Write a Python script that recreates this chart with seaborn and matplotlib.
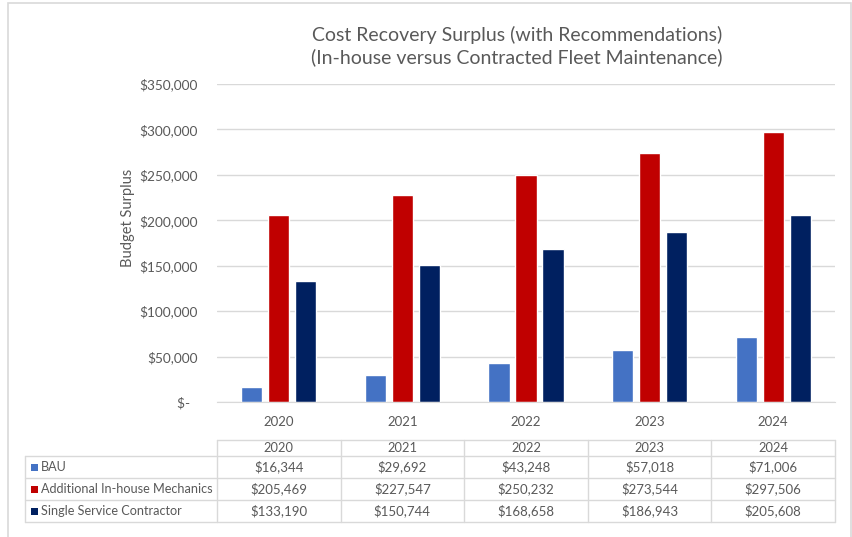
import matplotlib
matplotlib.use("Agg")
import matplotlib.pyplot as plt
from matplotlib.lines import Line2D
from matplotlib.patches import Rectangle
from matplotlib.ticker import FuncFormatter
import seaborn as sns
import pandas as pd

# ---- data ----
years = ["2020", "2021", "2022", "2023", "2024"]
series_names = ["BAU", "Additional In-house Mechanics", "Single Service Contractor"]
bau = [16344, 29692, 43248, 57018, 71006]
in_house = [205469, 227547, 250232, 273544, 297506]
contractor = [133190, 150744, 168658, 186943, 205608]
series_values = [bau, in_house, contractor]
colors = ["#4472C4", "#C00000", "#002060"]
y_ticks = [0, 50000, 100000, 150000, 200000, 250000, 300000, 350000]

title = "Cost Recovery Surplus (with Recommendations)\n(In-house versus Contracted Fleet Maintenance)"
y_label = "Budget Surplus"

TEXT = "#595959"
GRID = "#D9D9D9"
FONT = "Lato"

df = pd.DataFrame(
    [(y, name, v) for name, vals in zip(series_names, series_values) for y, v in zip(years, vals)],
    columns=["Year", "Series", "Value"],
)

W, H = 853, 537
fig = plt.figure(figsize=(W / 100, H / 100), dpi=100)
sns.set_style("white")
plt.rcParams["font.family"] = [FONT, "DejaVu Sans"]


def fx(px):
    return px / W


def fy(py):
    return 1 - py / H


# chart frame
fig.add_artist(Rectangle((fx(8), fy(545)), fx(851) - fx(8), fy(3) - fy(545),
                         transform=fig.transFigure, fill=False, edgecolor=GRID, lw=1.2))

ax_left, ax_right, ax_top, ax_bottom = 217, 835, 84, 402
ax = fig.add_axes([fx(ax_left), fy(ax_bottom), fx(ax_right) - fx(ax_left), fy(ax_top) - fy(ax_bottom)])

sns.barplot(data=df, x="Year", y="Value", hue="Series", order=years, hue_order=series_names,
            palette=colors, width=0.656, gap=0.22, ax=ax, legend=False, saturation=1)

ax.set_ylim(0, 350000)
ax.set_yticks(y_ticks)


def money(v, pos):
    return "$-  " if v == 0 else f"${v:,.0f}"


ax.yaxis.set_major_formatter(FuncFormatter(money))
ax.grid(axis="y", color=GRID, lw=1)
ax.set_axisbelow(True)
for s in ["top", "right", "left"]:
    ax.spines[s].set_visible(False)
ax.spines["bottom"].set_color(GRID)
ax.tick_params(axis="both", length=0, colors=TEXT, labelsize=9.8)
ax.tick_params(axis="x", pad=10)
ax.tick_params(axis="y", pad=14)
for lab in ax.get_xticklabels():
    lab.set_fontsize(9.5)
ax.set_xlabel("")
ax.set_ylabel(y_label, color=TEXT, fontsize=10.5)
ax.yaxis.set_label_coords(-0.132, 0.579)

fig.text(fx(517), fy(46), title, ha="center", va="center", color=TEXT, fontsize=14,
         linespacing=1.3)

# ---- data table ----
tab_left, col0_right, tab_right = 25, 217, 835
row_edges = [440, 456, 478, 500, 522]
ncol = len(years)
col_w = (tab_right - col0_right) / ncol
col_edges = [col0_right + i * col_w for i in range(ncol + 1)]


def hline(x0, x1, y):
    fig.add_artist(Line2D([fx(x0), fx(x1)], [fy(y), fy(y)], transform=fig.transFigure, color=GRID, lw=1))


def vline(x, y0, y1):
    fig.add_artist(Line2D([fx(x), fx(x)], [fy(y0), fy(y1)], transform=fig.transFigure, color=GRID, lw=1))


hline(col0_right, tab_right, row_edges[0])
for y in row_edges[1:]:
    hline(tab_left, tab_right, y)
vline(tab_left, row_edges[1], row_edges[-1])
for x in col_edges:
    vline(x, row_edges[0], row_edges[-1])

for j, yr in enumerate(years):
    cx = (col_edges[j] + col_edges[j + 1]) / 2
    fig.text(fx(cx), fy((row_edges[0] + row_edges[1]) / 2), yr, ha="center", va="center",
             color=TEXT, fontsize=9.3)

for i, (name, vals, c) in enumerate(zip(series_names, series_values, colors)):
    cy = (row_edges[i + 1] + row_edges[i + 2]) / 2
    fig.add_artist(Rectangle((fx(31), fy(cy + 3.5)), fx(7), fy(0) - fy(7), transform=fig.transFigure,
                             facecolor=c, edgecolor="none"))
    fig.text(fx(41), fy(cy), name, ha="left", va="center", color=TEXT, fontsize=9.1)
    for j, v in enumerate(vals):
        cx = (col_edges[j] + col_edges[j + 1]) / 2
        fig.text(fx(cx), fy(cy), f"${v:,.0f}", ha="center", va="center", color=TEXT, fontsize=9.5)

fig.savefig("out.png", dpi=100)
